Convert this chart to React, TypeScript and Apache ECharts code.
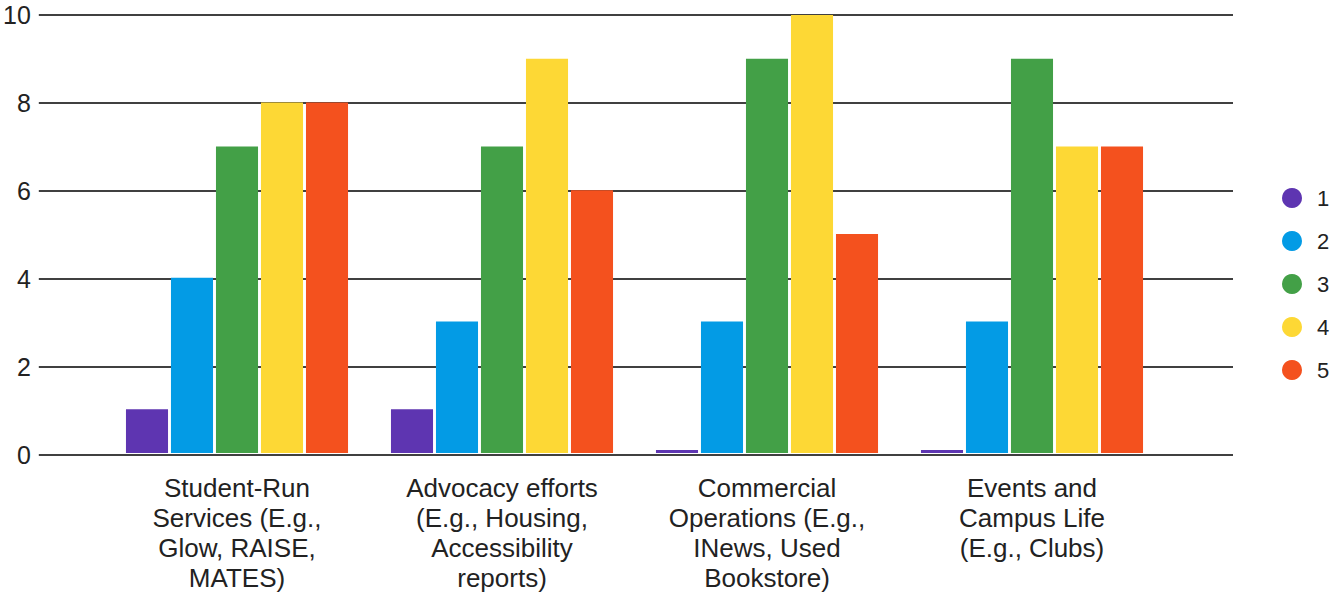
import React, { useEffect, useRef } from "react";
import * as echarts from "echarts";

const categories = [
  "Student-Run\nServices (E.g.,\nGlow, RAISE,\nMATES)",
  "Advocacy efforts\n(E.g., Housing,\nAccessibility\nreports)",
  "Commercial\nOperations (E.g.,\nINews, Used\nBookstore)",
  "Events and\nCampus Life\n(E.g., Clubs)",
];
const seriesNames = ["1", "2", "3", "4", "5"];
const s1 = [1, 1, 0, 0];
const s2 = [4, 3, 3, 3];
const s3 = [7, 7, 9, 9];
const s4 = [8, 9, 10, 7];
const s5 = [8, 6, 5, 7];
const seriesValues = [s1, s2, s3, s4, s5];
const colors = ["#5E35B1", "#039BE5", "#43A047", "#FDD835", "#F4511E"];
const yTicks = [0, 2, 4, 6, 8, 10];

export default function App() {
  const ref = useRef<HTMLDivElement>(null);
  useEffect(() => {
    if (!ref.current) return;
    const chart = echarts.init(ref.current, undefined, { renderer: "svg" });
    const font = "Liberation Sans";
    chart.setOption({
      animation: false,
      textStyle: { fontFamily: font },
      legend: {
        orient: "vertical",
        left: 1277,
        top: 182,
        icon: "circle",
        itemWidth: 20,
        itemHeight: 20,
        itemGap: 21,
        data: seriesNames,
        formatter: (name: string) => "{t|" + name + "}",
        textStyle: {
          fontSize: 22,
          color: "#222",
          fontFamily: font,
          rich: {
            t: { fontSize: 22, lineHeight: 20, color: "#222", fontFamily: font, padding: [0, 0, 0, 10] },
          },
        },
      },
      grid: [
        { left: 38, right: 100, top: 15, bottom: 138 },
        { left: 104.5, right: 168.5, top: 15, bottom: 138 },
      ],
      xAxis: [
        { type: "value", gridIndex: 0, show: false, min: 0, max: 1 },
        {
          type: "category",
          gridIndex: 1,
          data: categories,
          axisLine: { show: false },
          axisTick: { show: false },
          axisLabel: {
            interval: 0,
            margin: 20,
            fontSize: 26,
            lineHeight: 30,
            color: "#222",
            fontFamily: font,
            align: "center",
          },
        },
      ],
      yAxis: [
        {
          type: "value",
          gridIndex: 0,
          min: yTicks[0],
          max: yTicks[yTicks.length - 1],
          interval: 2,
          axisLine: { show: false },
          axisTick: { show: false },
          axisLabel: { fontSize: 25, color: "#222", margin: 8, fontFamily: font },
          splitLine: { lineStyle: { color: "#000", width: 1.5 } },
        },
        {
          type: "value",
          gridIndex: 1,
          min: yTicks[0],
          max: yTicks[yTicks.length - 1],
          interval: 2,
          show: false,
          splitLine: { show: false },
        },
      ],
      series: seriesValues.map((vals, i) => ({
        name: seriesNames[i],
        type: "bar",
        xAxisIndex: 1,
        yAxisIndex: 1,
        data: vals,
        barMinHeight: 3,
        barGap: "7%",
        barCategoryGap: "16.2%",
        itemStyle: { color: colors[i] },
      })),
    });
    return () => chart.dispose();
  }, []);
  return (
    <div
      ref={ref}
      style={{ position: "absolute", left: 0, top: 0, width: 1333, height: 593 }}
    />
  );
}
